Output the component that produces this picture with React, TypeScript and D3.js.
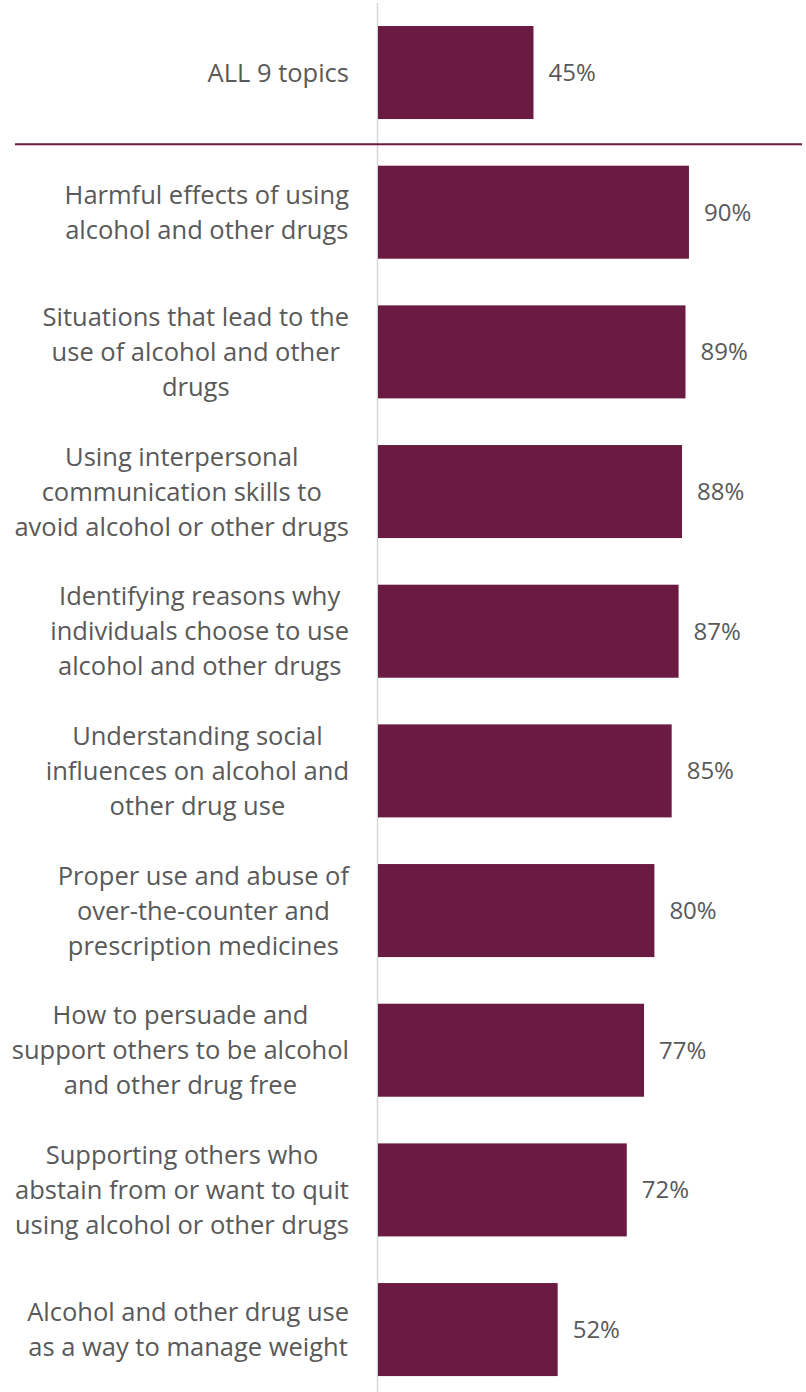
import React, { useEffect, useRef } from "react";
import * as d3 from "d3";

const categories: string[][] = [
  ["ALL 9 topics"],
  ["Harmful effects of using", "alcohol and other drugs"],
  ["Situations that lead to the", "use of alcohol and other", "drugs"],
  ["Using interpersonal", "communication skills to", "avoid alcohol or other drugs"],
  ["Identifying reasons why", "individuals choose to use", "alcohol and other drugs"],
  ["Understanding social", "influences on alcohol and", "other drug use"],
  ["Proper use and abuse of", "over-the-counter and", "prescription medicines"],
  ["How to persuade and", "support others to be alcohol", "and other drug free"],
  ["Supporting others who", "abstain from or want to quit", "using alcohol or other drugs"],
  ["Alcohol and other drug use", "as a way to manage weight"],
];
const values: number[] = [45, 90, 89, 88, 87, 85, 80, 77, 72, 52];

const W = 806;
const H = 1392;
const BAR = "#6B1B41";
const TEXT = "#595959";
const FONT = "'Open Sans', 'Segoe UI', sans-serif";

export default function App() {
  const ref = useRef<SVGSVGElement | null>(null);

  useEffect(() => {
    const svg = d3.select(ref.current);
    svg.selectAll("*").remove();

    const ids = categories.map((_, i) => String(i));
    const x = d3.scaleLinear().domain([0, 100]).range([378, 723.5]);
    const y = d3
      .scaleBand<string>()
      .domain(ids)
      .range([2.7, 1399.4])
      .paddingInner(0.334)
      .paddingOuter(0.167);

    // axis line
    svg
      .append("line")
      .attr("x1", x(0) - 0.5)
      .attr("x2", x(0) - 0.5)
      .attr("y1", 3)
      .attr("y2", H)
      .attr("stroke", "#d6d6d6")
      .attr("stroke-width", 1.5);

    // separator
    const sepY = (y("0")! + y.bandwidth() + y("1")!) / 2 + 2;
    svg
      .append("line")
      .attr("x1", 15)
      .attr("x2", 802)
      .attr("y1", sepY)
      .attr("y2", sepY)
      .attr("stroke", BAR)
      .attr("stroke-width", 2);

    // bars
    svg
      .append("g")
      .selectAll("rect")
      .data(values)
      .join("rect")
      .attr("x", x(0))
      .attr("y", (_, i) => y(String(i))!)
      .attr("width", (d) => x(d) - x(0))
      .attr("height", y.bandwidth())
      .attr("fill", BAR);

    // value labels
    svg
      .append("g")
      .selectAll("text")
      .data(values)
      .join("text")
      .attr("x", (d) => x(d) + 15)
      .attr("y", (_, i) => y(String(i))! + y.bandwidth() / 2 + 8.5)
      .attr("font-family", FONT)
      .attr("font-size", 24)
      .attr("fill", TEXT)
      .text((d) => `${d}%`);

    // category labels
    const lineH = 35;
    const rightEdge = 349;
    categories.forEach((lines, i) => {
      const cy = y(String(i))! + y.bandwidth() / 2;
      const g = svg.append("g");
      const n = lines.length;
      const texts = lines.map((ln, j) =>
        g
          .append("text")
          .attr("text-anchor", "middle")
          .attr("font-family", FONT)
          .attr("font-size", 25.5)
          .attr("fill", TEXT)
          .attr("y", cy + (j - (n - 1) / 2) * lineH + 9)
          .text(ln)
      );
      let maxW = 0;
      texts.forEach((t) => {
        const w = (t.node() as SVGTextElement).getComputedTextLength();
        if (w > maxW) maxW = w;
      });
      texts.forEach((t) => t.attr("x", rightEdge - maxW / 2));
    });
  }, []);

  return (
    <svg
      ref={ref}
      width={W}
      height={H}
      style={{ position: "absolute", left: 0, top: 0, background: "#fff" }}
    />
  );
}
